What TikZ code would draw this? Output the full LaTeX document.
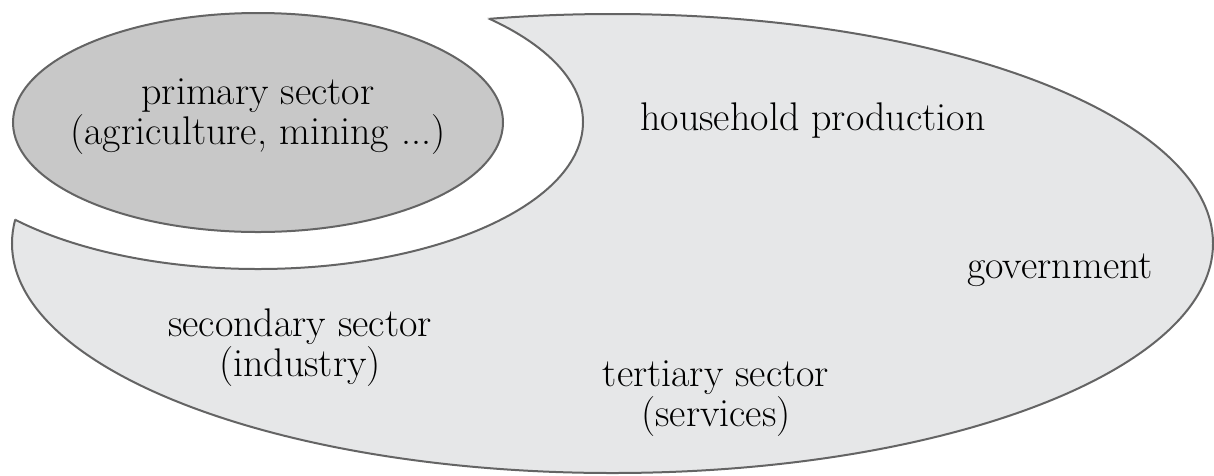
\documentclass[tikz,border=0pt]{standalone}
\usetikzlibrary{positioning}
\definecolor{darkfill}{RGB}{200,200,200}
\definecolor{lightfill}{RGB}{230,231,232}
\definecolor{rim}{RGB}{100,100,100}
\tikzset{
  sectors/.style={
    x=1pt, y=-1pt,
    rim line/.style={draw=rim, line width=2pt},
    sector text/.style={
        align=center,
        inner sep=0pt,
        font=\fontsize{40}{40}\selectfont,
    },
  }
}
\begin{document}
\begin{tikzpicture}[sectors]
    \useasboundingbox (0,0) rectangle (1214,475);
    \coordinate (outer c) at (612.5,243.5);
    \coordinate (bite c) at (258,122);
    \coordinate (primary c) at (258,122.5);
    % big region with the bite taken out
    \fill[lightfill] (outer c) ellipse [x radius=600.5, y radius=229.5];
    \fill[white] (bite c) ellipse [x radius=325, y radius=147];
    \begin{scope}[even odd rule]
        \clip (bite c) ellipse [x radius=325, y radius=147]
              (-50,-50) rectangle (1264,525);
        \draw[rim line] (outer c) ellipse [x radius=600.5, y radius=229.5];
    \end{scope}
    \begin{scope}
        \clip (outer c) ellipse [x radius=600.5, y radius=229.5];
        \draw[rim line] (bite c) ellipse [x radius=325, y radius=147];
    \end{scope}
    % primary sector
    \draw[rim line, fill=darkfill] (primary c) ellipse [x radius=245, y radius=109.5];

    \node[sector text] (primary) at (258,116.6) {primary sector\\(agriculture, mining ...)};
    \node[sector text, anchor=base] (household) at (813,130) {household production};
    \node[sector text, anchor=base] (government) at (1060,278) {government};
    \node[sector text] (secondary) at (300,348) {secondary sector\\(industry)};
    \node[sector text] (tertiary) at (716,398.6) {tertiary sector\\(services)};
\end{tikzpicture}
\end{document}
